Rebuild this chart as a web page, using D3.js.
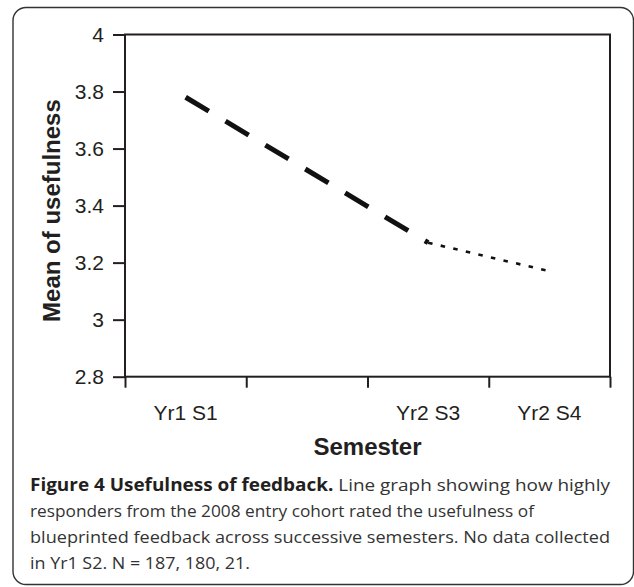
<!DOCTYPE html>
<html>
<head>
<meta charset="utf-8">
<script src="https://cdn.jsdelivr.net/npm/d3@7/dist/d3.min.js"></script>
<style>
  body { margin: 0; background: #fff; }
  svg { display: block; }
</style>
</head>
<body>
<script>
// data
var categories = ["Yr1 S1", "Yr1 S2", "Yr2 S3", "Yr2 S4"];
var tickLabels = ["Yr1 S1", "", "Yr2 S3", "Yr2 S4"];   // no data collected in Yr1 S2
var meanValues = [3.78, null, 3.27, 3.17];
var yTicks = [2.8, 3, 3.2, 3.4, 3.6, 3.8, 4];
var captionBold = "Figure 4 Usefulness of feedback.";
var captionLines = [
    " Line graph showing how highly",
    "responders from the 2008 entry cohort rated the usefulness of",
    "blueprinted feedback across successive semesters. No data collected",
    "in Yr1 S2. N = 187, 180, 21."
];

var W = 634, H = 587;
var ink = "#231f20";
var plot = {left: 125, right: 610, top: 34.5, bottom: 376.7};

var svg = d3.select("body").append("svg")
    .attr("width", W)
    .attr("height", H);

// outer rounded frame
svg.append("rect")
    .attr("x", 13).attr("y", 7.5)
    .attr("width", 620.5).attr("height", 577)
    .attr("rx", 13).attr("ry", 13)
    .attr("fill", "none")
    .attr("stroke", "#333")
    .attr("stroke-width", 1.4);

var x = d3.scaleBand()
    .domain(categories)
    .range([plot.left, plot.right])
    .paddingInner(0).paddingOuter(0);

// edges of the category bands, for the tick marks
var xEdge = d3.scaleLinear()
    .domain([0, categories.length])
    .range([plot.left, plot.right]);

var y = d3.scaleLinear()
    .domain([2.8, 4])
    .range([plot.bottom, plot.top]);

// y axis
var yAxis = svg.append("g")
    .attr("transform", "translate(" + plot.left + ",0)")
    .call(d3.axisLeft(y).tickValues(yTicks).tickSize(12).tickSizeOuter(0)
        .tickPadding(9).tickFormat(d3.format("")));
yAxis.select(".domain").remove();
yAxis.selectAll("line").attr("stroke", ink).attr("stroke-width", 2);
yAxis.selectAll("text")
    .attr("fill", ink)
    .style("font-family", "'Liberation Sans', Arial, sans-serif")
    .style("font-size", "21px");

// x axis tick marks on band edges
var xTicks = svg.append("g")
    .attr("transform", "translate(0," + plot.bottom + ")")
    .call(d3.axisBottom(xEdge).tickValues(d3.range(categories.length + 1))
        .tickSize(11).tickSizeOuter(0).tickFormat(""));
xTicks.select(".domain").remove();
xTicks.selectAll("line").attr("stroke", ink).attr("stroke-width", 2);

// x axis labels centred in the bands
var xLabels = svg.append("g")
    .attr("transform", "translate(0," + plot.bottom + ")")
    .call(d3.axisBottom(x).tickSize(0).tickSizeOuter(0)
        .tickFormat(function(d, i) { return tickLabels[i]; }));
xLabels.select(".domain").remove();
xLabels.selectAll("text")
    .attr("y", 43.3).attr("dy", null)
    .attr("fill", ink)
    .style("font-family", "'Liberation Sans', Arial, sans-serif")
    .style("font-size", "21px");

// plot frame
svg.append("rect")
    .attr("x", plot.left).attr("y", plot.top)
    .attr("width", plot.right - plot.left)
    .attr("height", plot.bottom - plot.top)
    .attr("fill", "none")
    .attr("stroke", ink)
    .attr("stroke-width", 2);

// line segments between consecutive semesters that have data
var pts = [];
meanValues.forEach(function(v, i) {
    if (v != null) pts.push({cat: categories[i], val: v});
});
var segs = d3.pairs(pts);
var segStyle = [
    {width: 5, dash: "27,19.5"},
    {width: 2.6, dash: "4.5,8.4"}
];
var line = d3.line()
    .x(function(d) { return x(d.cat) + x.bandwidth() / 2; })
    .y(function(d) { return y(d.val); });

svg.selectAll(".seg")
    .data(segs)
    .enter().append("path")
    .attr("class", "seg")
    .attr("d", line)
    .attr("fill", "none")
    .attr("stroke", "#111")
    .attr("stroke-width", function(d, i) { return segStyle[i].width; })
    .attr("stroke-dasharray", function(d, i) { return segStyle[i].dash; });

// axis titles
svg.append("text")
    .attr("transform", "translate(60," + ((plot.top + plot.bottom) / 2 + 5) + ") rotate(-90)")
    .attr("text-anchor", "middle")
    .attr("fill", ink)
    .style("font-family", "'Liberation Sans', Arial, sans-serif")
    .style("font-size", "24px")
    .style("font-weight", "bold")
    .text("Mean of usefulness");

svg.append("text")
    .attr("x", (plot.left + plot.right) / 2)
    .attr("y", 455)
    .attr("text-anchor", "middle")
    .attr("fill", ink)
    .style("font-family", "'Liberation Sans', Arial, sans-serif")
    .style("font-size", "24px")
    .style("font-weight", "bold")
    .text("Semester");

// caption
var capWidths = [580, 504, 580, 220];
var cap = svg.append("g")
    .style("font-family", "'Open Sans', 'Noto Sans', sans-serif")
    .style("font-size", "17px")
    .attr("fill", ink);

captionLines.forEach(function(t, i) {
    var tx = cap.append("text")
        .attr("x", 30)
        .attr("y", 491 + i * 26)
        .attr("textLength", capWidths[i])
        .attr("lengthAdjust", "spacingAndGlyphs");
    if (i === 0) {
        tx.append("tspan").style("font-weight", "bold").text(captionBold);
    }
    tx.append("tspan").style("font-weight", "normal").attr("fill", "#333").text(t);
});
</script>
</body>
</html>
